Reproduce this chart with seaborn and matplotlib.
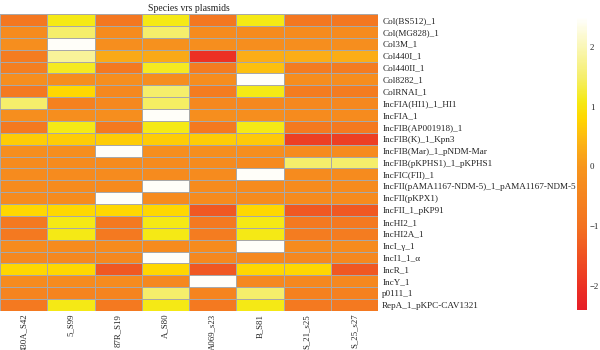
import matplotlib
matplotlib.use("Agg")
import matplotlib.pyplot as plt
import seaborn as sns
import pandas as pd
from matplotlib.colors import LinearSegmentedColormap

plasmids = [
    "Col(BS512)_1", "Col(MG828)_1", "Col3M_1", "Col440I_1", "Col440II_1",
    "Col8282_1", "ColRNAI_1", "IncFIA(HI1)_1_HI1", "IncFIA_1",
    "IncFIB(AP001918)_1", "IncFIB(K)_1_Kpn3", "IncFIB(Mar)_1_pNDM-Mar",
    "IncFIB(pKPHS1)_1_pKPHS1", "IncFIC(FII)_1",
    "IncFII(pAMA1167-NDM-5)_1_pAMA1167-NDM-5", "IncFII(pKPX1)",
    "IncFII_1_pKP91", "IncHI2_1", "IncHI2A_1", "IncI_γ_1", "IncI1_1_α",
    "IncR_1", "IncY_1", "p0111_1", "RepA_1_pKPC-CAV1321",
]
species = ["430A_S42", "5_S99", "87R_S19", "A_S80", "A069_s23", "B_S81",
           "S_21_s25", "S_25_s27"]

s_430A_S42 = [-0.85, -0.3, -0.2, -0.7, -0.65, -0.2, -0.8, 1.5, -0.2, -0.8, 0.7, -0.2,
              -0.3, -0.3, -0.3, -0.3, 0.8, -0.8, -0.8, -0.3, -0.4, 0.8, -0.3, -0.5, -0.8]
s_5_S99 = [1.1, 1.5, 2.45, 1.8, 1.15, -0.2, 0.8, -0.6, -0.2, 1.1, 0.7, -0.2,
           -0.3, -0.3, -0.3, -0.3, 0.8, 1.1, 1.1, -0.3, -0.4, 0.8, -0.3, -0.5, 1.1]
s_87R_S19 = [-0.85, -0.3, -0.2, 0.25, -0.8, -0.2, -0.4, -0.4, -0.2, -0.8, 0.7, 2.45,
             -0.3, -0.3, -0.35, 2.45, 0.8, -0.8, -0.8, -0.3, -0.4, -1.4, -0.3, -0.5, -0.8]
s_A_S80 = [1.1, 1.5, -0.15, 0.25, 1.15, -0.2, 1.5, 1.45, 2.45, 1.1, 0.7, -0.2,
           -0.3, -0.3, 2.45, -0.3, 0.8, 1.1, 1.1, -0.3, 2.45, 0.8, -0.4, 1.5, 1.1]
s_A069_s23 = [-0.85, -0.3, -0.2, -2.0, -0.7, -0.25, -0.7, -0.4, -0.2, -0.8, 0.7, -0.2,
              -0.3, -0.3, -0.3, -0.3, -1.4, -0.8, -0.7, -0.3, -0.4, -1.4, 2.45, -0.5, -0.8]
s_B_S81 = [1.1, -0.3, -0.2, 0.3, 0.55, 2.45, 1.1, -0.4, -0.2, 1.1, 0.65, -0.2,
           -0.35, 2.45, -0.3, -0.3, 0.8, 1.1, 1.1, 2.45, -0.4, 0.8, -0.4, 1.5, 1.1]
s_S_21_s25 = [-0.85, -0.3, -0.2, 0.3, -0.7, -0.25, -0.7, -0.4, -0.3, -0.8, -1.8, -0.3,
              1.5, -0.3, -0.3, -0.3, -1.4, -0.8, -0.7, -0.3, -0.4, 0.8, -0.4, -0.6, -0.8]
s_S_25_s27 = [-0.85, -0.3, -0.2, 0.3, -0.7, -0.25, -0.7, -0.4, -0.3, -0.8, -1.8, -0.3,
              1.5, -0.3, -0.3, -0.3, -1.4, -0.8, -0.7, -0.3, -0.4, -1.4, -0.4, -0.6, -0.8]

df = pd.DataFrame({
    "430A_S42": s_430A_S42, "5_S99": s_5_S99, "87R_S19": s_87R_S19,
    "A_S80": s_A_S80, "A069_s23": s_A069_s23, "B_S81": s_B_S81,
    "S_21_s25": s_S_21_s25, "S_25_s27": s_S_25_s27,
}, index=plasmids)[species]

vmin, vmax = -2.4, 2.5
stops = [(-2.4, "#E61E28"), (-2.0, "#EC3224"), (-1.0, "#F37221"),
         (0.0, "#F7961D"), (0.5, "#FDBB12"), (0.8, "#FFD600"),
         (1.1, "#F5E915"), (1.5, "#F5EE6B"), (2.5, "#FFFFFF")]
cmap = LinearSegmentedColormap.from_list(
    "heatlike", [((v - vmin) / (vmax - vmin), c) for v, c in stops])

sns.set_theme(style="white")
plt.rcParams["font.family"] = ["Liberation Serif", "DejaVu Serif"]

fig = plt.figure(figsize=(6, 3.5), dpi=100)
ax = fig.add_axes([0.0, 1 - 311 / 350, 378 / 600, 297 / 350])
cax = fig.add_axes([577 / 600, 1 - 310 / 350, 10 / 600, 293 / 350])

sns.heatmap(df, ax=ax, cbar_ax=cax, cmap=cmap, vmin=vmin, vmax=vmax,
            linewidths=0.6, linecolor="#A8A8A8")

ax.yaxis.tick_right()
ax.set_yticks([i + 0.5 for i in range(len(plasmids))])
ax.set_yticklabels(plasmids, rotation=0, fontsize=6.6, color="#222222")
ax.set_xticks([i + 0.5 for i in range(len(species))])
ax.set_xticklabels(species, rotation=90, fontsize=6.3, color="#222222")
ax.tick_params(axis="y", length=0, pad=3)
ax.tick_params(axis="x", length=0, pad=2)
ax.set_xlabel("")
ax.set_ylabel("")
ax.set_title("Species vrs plasmids", fontsize=7, pad=2.5, color="#222222")

cax.set_yticks([-2, -1, 0, 1, 2])
cax.set_yticklabels(["\u22122", "\u22121", "0", "1", "2"])
cax.tick_params(length=0, labelsize=6.3, pad=2, colors="#222222")
for sp in cax.spines.values():
    sp.set_visible(False)

fig.savefig("out.png", dpi=100)
